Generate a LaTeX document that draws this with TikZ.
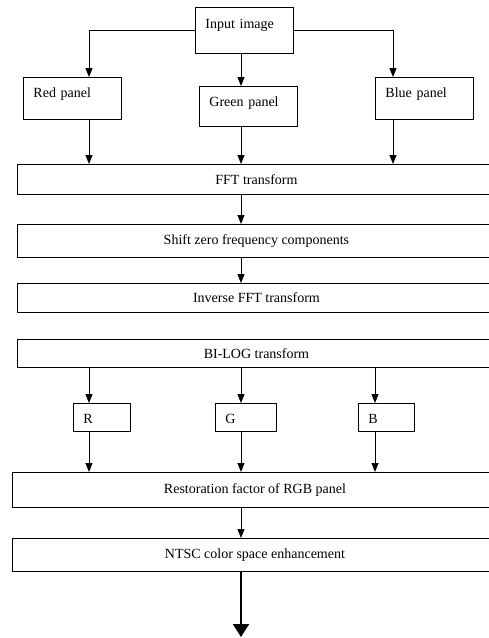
\documentclass[tikz,border=0pt]{standalone}
\usepackage{fontspec}
\setmainfont{Liberation Serif}
\usetikzlibrary{arrows.meta, positioning, calc}

\begin{document}
\begin{tikzpicture}[x=1pt, y=-1pt, >={Triangle[width=7pt,length=9pt]},
    line width=0.9pt, font=\fontsize{14}{16}\selectfont,
    topbox/.style={draw, anchor=north west, text width=78pt, align=left,
                   inner xsep=10pt, inner ysep=0pt, text height=20pt},
    rgbbox/.style={draw, anchor=north west, align=left, inner xsep=10pt,
                   inner ysep=0pt, text height=20pt, text depth=8pt},
    widebox/.style={draw, anchor=north west, inner sep=0pt, minimum width=478pt},
    bigarrow/.style={line width=2pt, -{Triangle[width=16pt,length=13pt]}}]
  \clip (0,0) rectangle (489,638);

  % Columns of the connectors
  \coordinate (colL) at (89,0);
  \coordinate (colM) at (241,0);
  \coordinate (colR) at (393,0);
  \coordinate (colB) at (375,0);

  % Input and colour panels
  \node[topbox, text height=21pt, text depth=25pt] (in) at (195,7) {Input image};
  \node[topbox, text depth=22pt] (red) at (23,77) {Red panel};
  \node[topbox, text depth=20pt] (green) at (199,86) {Green panel};
  \node[topbox, text depth=22pt] (blue) at (375,77) {Blue panel};

  \draw[->] (in.west) -| (red.north -| colL);
  \draw[->] (in.south -| colM) -- (green.north -| colM);
  \draw[->] (in.east) -| (blue.north -| colR);

  % Fourier stages
  \node[widebox, minimum height=30pt] (fft) at (17,164) {FFT transform};
  \node[widebox, minimum height=33pt] (shift) at (17,224) {Shift zero frequency components};
  \node[widebox, minimum height=29pt] (ifft) at (17,283) {Inverse FFT transform};

  \draw[->] (red.south -| colL) -- (fft.north -| colL);
  \draw[->] (green.south -| colM) -- (fft.north -| colM);
  \draw[->] (blue.south -| colR) -- (fft.north -| colR);
  \draw[->] (fft.south -| colM) -- (shift.north -| colM);
  \draw[->] (shift.south -| colM) -- (ifft.north -| colM);

  % Bi-log and restoration
  \node[widebox, minimum height=28pt] (bilog) at (17,339) {BI-LOG transform};
  \node[rgbbox, text width=37pt] (r) at (73,403) {R};
  \node[rgbbox, text width=41pt] (g) at (215,403) {G};
  \node[rgbbox, text width=36pt] (b) at (358,403) {B};

  \draw[->] (bilog.south -| colL) -- (r.north -| colL);
  \draw[->] (bilog.south -| colM) -- (g.north -| colM);
  \draw[->] (bilog.south -| colB) -- (b.north -| colB);

  \node[widebox, minimum width=485pt, minimum height=35pt] (rest) at (12,472)
    {Restoration factor of RGB panel};
  \node[widebox, minimum width=485pt, minimum height=33pt] (ntsc) at (12,538)
    {NTSC color space enhancement};

  \draw[->] (r.south -| colL) -- (rest.north -| colL);
  \draw[->] (g.south -| colM) -- (rest.north -| colM);
  \draw[->] (b.south -| colB) -- (rest.north -| colB);
  \draw[->] (rest.south -| colM) -- (ntsc.north -| colM);

  \coordinate (out) at (241,637);
  \draw[bigarrow] (ntsc.south -| colM) -- (out);
\end{tikzpicture}
\end{document}
